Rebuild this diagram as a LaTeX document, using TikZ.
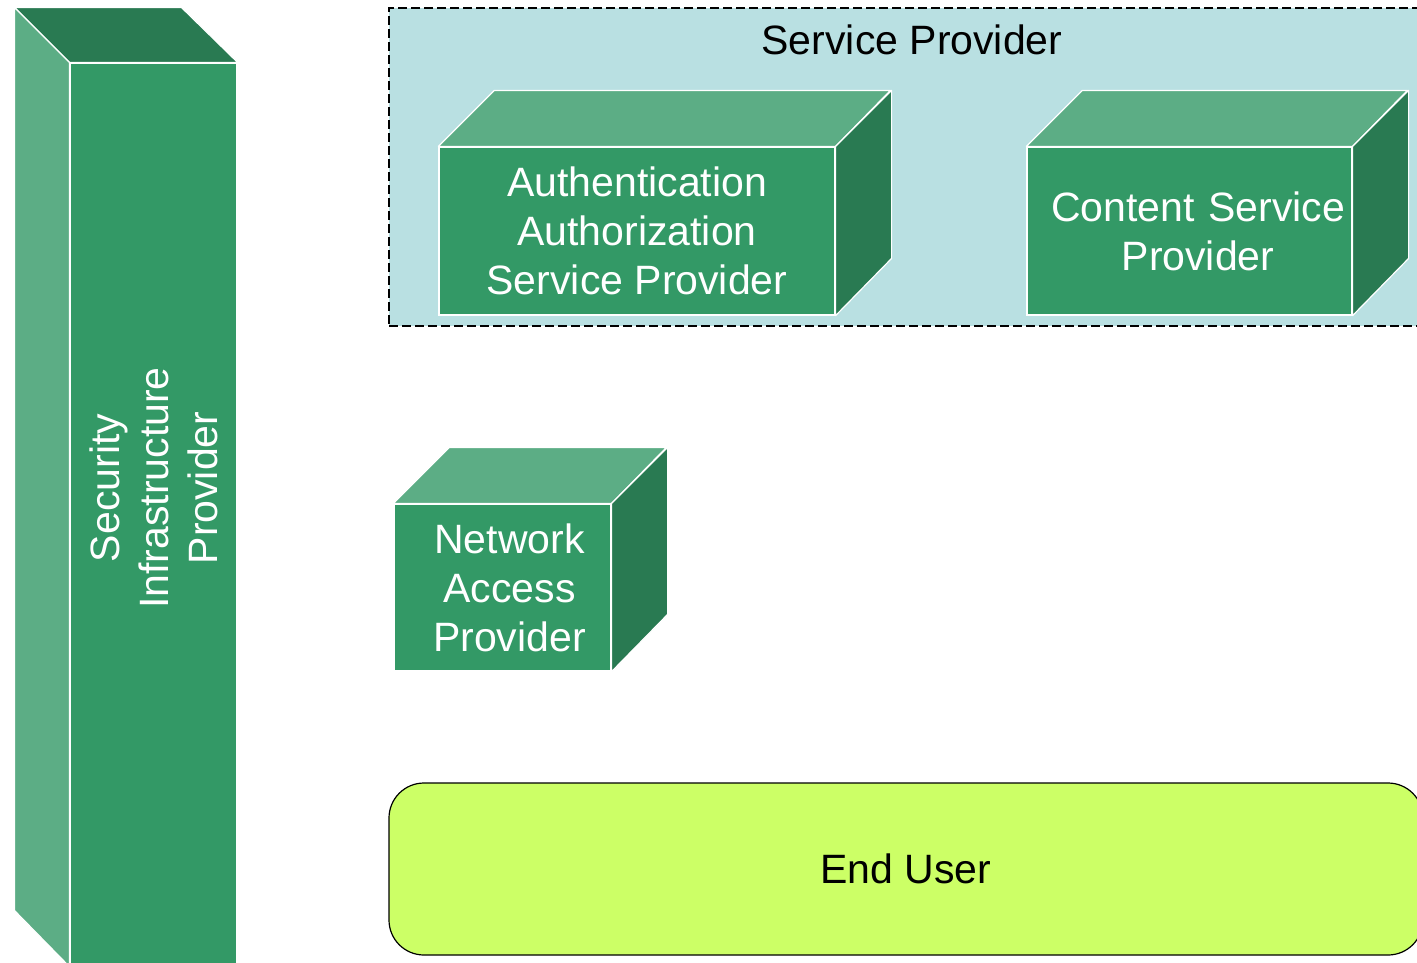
\documentclass[tikz,border=0pt]{standalone}
\usepackage{fontspec}
\setmainfont{Liberation Sans}
\definecolor{seafront}{HTML}{339966}
\definecolor{sealight}{HTML}{5CAD85}
\definecolor{seadark}{HTML}{297A52}
\definecolor{spblue}{HTML}{B9E0E2}
\definecolor{lime}{HTML}{CCFF66}
\newcommand{\bigfont}{\fontsize{41}{49}\selectfont}
\tikzset{
    front/.style={draw=white, fill=seafront, text=white, font=\bigfont, align=center, inner sep=0pt, line width=1.2pt},
    lightface/.style={draw=white, fill=sealight, line width=1.2pt, line join=round},
    darkface/.style={draw=white, fill=seadark, line width=1.2pt, line join=round}
}
\begin{document}
\begin{tikzpicture}[x=1pt, y=-1pt]
    \clip (0,0) rectangle (1417,962);
    \fill[white] (0,0) rectangle (1417,962);

    % Security Infrastructure Provider
    \node[front, minimum width=167pt, minimum height=903pt] (sip) at (153.5,514.5) {};
    \draw[darkface] (sip.north west) -- ++(-55,-55) -- ++(167,0) -- (sip.north east) -- cycle;
    \draw[lightface] (sip.north west) -- ++(-55,-55) -- ++(0,903) -- (sip.south west) -- cycle;
    \node[font=\bigfont, text=white, align=center, rotate=90] (siptext) at (154,488) {Security\\Infrastructure\\Provider};

    % Service Provider
    \node[draw, dashed, dash pattern=on 9pt off 4pt, line width=1.2pt, fill=spblue, minimum width=1046pt, minimum height=318pt, inner sep=0pt] (sp) at (912,167) {};
    \node[font=\bigfont] (sptitle) at (912,40) {Service Provider};

    % Authentication Authorization Service Provider
    \node[front, minimum width=396pt, minimum height=168pt] (aasp) at (637,231) {Authentication\\Authorization\\Service Provider};
    \draw[lightface] (aasp.north west) -- ++(56,-56) -- ++(396,0) -- (aasp.north east) -- cycle;
    \draw[darkface] (aasp.north east) -- ++(56,-56) -- ++(0,168) -- (aasp.south east) -- cycle;

    % Content Service Provider
    \node[front, minimum width=325pt, minimum height=168pt, text width=325pt] (csp) at (1189.5,231) {\hspace*{17pt}Content Service\\\hspace*{17pt}Provider};
    \draw[lightface] (csp.north west) -- ++(56,-56) -- ++(325,0) -- (csp.north east) -- cycle;
    \draw[darkface] (csp.north east) -- ++(56,-56) -- ++(0,168) -- (csp.south east) -- cycle;

    % Network Access Provider
    \node[front, minimum width=217pt, minimum height=167pt, text width=217pt] (nap) at (502.5,587.5) {\hspace*{14pt}Network\\\hspace*{14pt}Access\\\hspace*{14pt}Provider};
    \draw[lightface] (nap.north west) -- ++(56,-56) -- ++(217,0) -- (nap.north east) -- cycle;
    \draw[darkface] (nap.north east) -- ++(56,-56) -- ++(0,167) -- (nap.south east) -- cycle;

    % End User
    \node[draw, line width=1.2pt, fill=lime, rounded corners=35pt, minimum width=1034pt, minimum height=172pt, font=\bigfont] (user) at (906,869) {End User};
\end{tikzpicture}
\end{document}
